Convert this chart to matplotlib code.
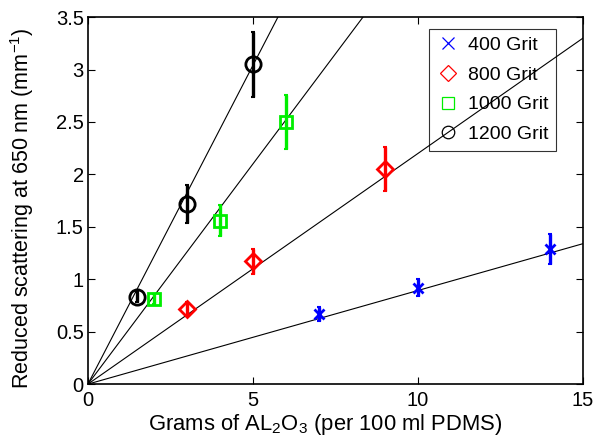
import matplotlib
matplotlib.use('Agg')
import numpy as np
import matplotlib.pyplot as plt

plt.rcParams['font.family'] = ['Liberation Sans', 'DejaVu Sans']
plt.rcParams['mathtext.fontset'] = 'custom'
plt.rcParams['mathtext.rm'] = 'Liberation Sans'

# 데이터
labels = ['400 Grit', '800 Grit', '1000 Grit', '1200 Grit']
x400 = [7, 10, 14]
y400 = [0.67, 0.92, 1.29]
e400 = [0.07, 0.08, 0.14]
x800 = [3, 5, 9]
y800 = [0.72, 1.17, 2.05]
e800 = [0.06, 0.12, 0.21]
x1000 = [2, 4, 6]
y1000 = [0.81, 1.56, 2.50]
e1000 = [0.05, 0.15, 0.26]
x1200 = [1.5, 3, 5]
y1200 = [0.83, 1.72, 3.05]
e1200 = [0.05, 0.18, 0.31]
slopes = [0.0893, 0.22, 0.42, 0.608]

fig = plt.figure(figsize=(5.98, 4.38), dpi=100)
ax = fig.add_axes([0.147, 0.123, 0.828, 0.838])

# 원점을 지나는 피팅 직선
xx = np.array([0, 15])
for s in slopes:
    ax.plot(xx, s * xx, color='black', lw=0.8, zorder=6)

series = [
    (x400, y400, e400, 'x', 'blue'),
    (x800, y800, e800, 'D', 'red'),
    (x1000, y1000, e1000, 's', '#00ee00'),
    (x1200, y1200, e1200, 'o', 'black'),
]
sizes = [7, 8, 9, 11]
for (x, y, e, m, c), lab, ms in zip(series, labels, sizes):
    ax.errorbar(x, y, yerr=e, fmt='none', ecolor=c, elinewidth=2.4, capsize=1.5, capthick=1.5, zorder=7)
    ax.plot(x, y, linestyle='none', marker=m, markersize=ms,
            markerfacecolor='none', markeredgecolor=c, markeredgewidth=2, zorder=8)
    ax.plot([], [], linestyle='none', marker=m, markersize=9 if m != 'D' else 8,
            markerfacecolor='none', markeredgecolor=c, markeredgewidth=0.9, label=lab)

ax.set_xlim(0, 15)
ax.set_ylim(0, 3.5)
ax.set_xticks([0, 5, 10, 15])
ax.set_yticks(np.arange(0, 3.51, 0.5))
ax.set_yticklabels(['0', '0.5', '1', '1.5', '2', '2.5', '3', '3.5'])
ax.tick_params(direction='in', top=True, right=True, labelsize=14.5, length=5)
ax.tick_params(axis='x', pad=5)
ax.tick_params(axis='y', pad=3)
for sp in ax.spines.values():
    sp.set_linewidth(1.2)

ax.set_xlabel('Grams of AL$_2$O$_3$ (per 100 ml PDMS)', fontsize=15.8)
ax.set_ylabel('Reduced scattering at 650 nm (mm$^{-1}$)', fontsize=15.5)
ax.xaxis.set_label_coords(0.48, -0.075)
ax.yaxis.set_label_coords(-0.105, 0.48)

# 범례 배경은 투명 (직선이 범례 위로 지나감)
leg = ax.legend(loc='upper right', fontsize=14, fancybox=False, facecolor='none',
                edgecolor='black', handletextpad=0.4, borderpad=0.4, labelspacing=0.62,
                handlelength=1.2, bbox_to_anchor=(0.965, 0.995))
leg.set_zorder(5)
leg.get_frame().set_linewidth(0.8)

fig.savefig('out.png', dpi=100)
